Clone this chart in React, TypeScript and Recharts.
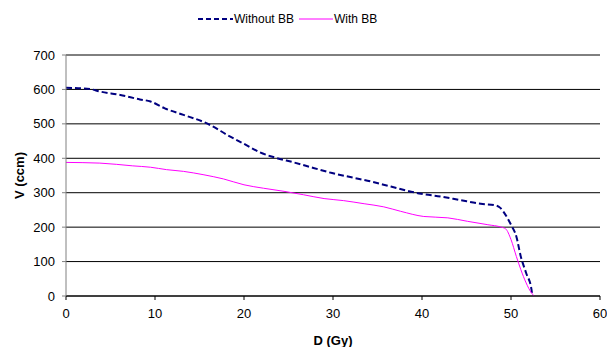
import React from "react";
import { LineChart, Line, XAxis, YAxis, CartesianGrid } from "recharts";

const withoutDose = [0, 2.7, 3.8, 6.1, 8.3, 9.5, 11.1, 13.2, 15.5, 16.4, 18.1, 20, 21.8, 23.5, 25.6, 27.8, 29.9, 32.2, 34.2, 36.5, 39.9, 42.1, 44.4, 46.6, 48.3, 48.8, 49.2, 50, 50.6, 51.1, 51.7, 52.3, 52.4];
const withoutVol = [605, 601, 594, 584, 571, 565, 545, 526, 505, 494, 468, 442, 417, 402, 388, 372, 357, 344, 333, 318, 297, 289, 278, 268, 263, 256, 243, 207, 173, 115, 67, 19, 0];

const withDose = [0, 3.8, 7.5, 9.5, 11.3, 13.2, 15.5, 17.7, 20, 22.2, 24.5, 26.7, 29, 31.2, 33.5, 35.7, 37.6, 40.2, 42.9, 45.1, 47.4, 48.9, 49.4, 50, 50.6, 51.1, 51.7, 52.3, 52.6];
const withVol = [388, 386, 378, 374, 367, 362, 352, 340, 323, 313, 304, 294, 283, 277, 268, 259, 246, 231, 227, 217, 207, 200, 195, 164, 115, 77, 38, 9, 0];

const xTicks = [0, 10, 20, 30, 40, 50, 60];
const yTicks = [0, 100, 200, 300, 400, 500, 600, 700];

const withoutData = withoutDose.map((d, i) => ({ d, v: withoutVol[i] }));
const withData = withDose.map((d, i) => ({ d, v: withVol[i] }));

const font = "'Liberation Sans', Arial, sans-serif";
const tick = { fontSize: 13, fill: "#000", fontFamily: font };
const axisLabel = { fontSize: 13, fontWeight: "bold", fill: "#000", fontFamily: font };

function LegendBox() {
  return (
    <div
      style={{
        position: "absolute",
        top: 12,
        left: 198,
        display: "flex",
        alignItems: "center",
        fontFamily: font,
        fontSize: 12,
        color: "#000",
      }}
    >
      <svg width={35} height={10}>
        <line x1={0} y1={5} x2={35} y2={5} stroke="#000080" strokeWidth={2} strokeDasharray="5 3" />
      </svg>
      <span style={{ marginLeft: 1, marginRight: 5 }}>Without BB</span>
      <svg width={34} height={10}>
        <line x1={0} y1={5} x2={34} y2={5} stroke="#FF00FF" strokeWidth={1} />
      </svg>
      <span style={{ marginLeft: 1 }}>With BB</span>
    </div>
  );
}

export default function App() {
  return (
    <div style={{ position: "absolute", left: 0, top: 0, width: 607, height: 347, background: "#fff" }}>
      <LegendBox />
      <LineChart width={607} height={347} margin={{ top: 55, right: 7, bottom: 8, left: 16 }}>
        <CartesianGrid vertical={false} stroke="#000" strokeWidth={1} />
        <XAxis
          type="number"
          dataKey="d"
          domain={[0, 60]}
          ticks={xTicks}
          tick={tick}
          tickSize={4}
          tickMargin={9}
          axisLine={{ stroke: "#000" }}
          tickLine={{ stroke: "#000" }}
          height={43}
          allowDuplicatedCategory={false}
          label={{ value: "D (Gy)", position: "insideBottom", offset: -6, style: axisLabel }}
        />
        <YAxis
          type="number"
          domain={[0, 700]}
          ticks={yTicks}
          tick={tick}
          tickSize={4}
          tickMargin={7}
          width={50}
          axisLine={{ stroke: "#808080" }}
          tickLine={{ stroke: "#808080" }}
          label={{ value: "V (ccm)", angle: -90, position: "insideLeft", offset: 0, dx: 3, style: { ...axisLabel, textAnchor: "middle" } }}
        />
        <Line
          data={withoutData}
          dataKey="v"
          type="monotone"
          stroke="#000080"
          strokeWidth={2}
          strokeDasharray="6 3"
          dot={false}
          isAnimationActive={false}
        />
        <Line
          data={withData}
          dataKey="v"
          type="monotone"
          stroke="#FF00FF"
          strokeWidth={1}
          dot={false}
          isAnimationActive={false}
        />
      </LineChart>
    </div>
  );
}
